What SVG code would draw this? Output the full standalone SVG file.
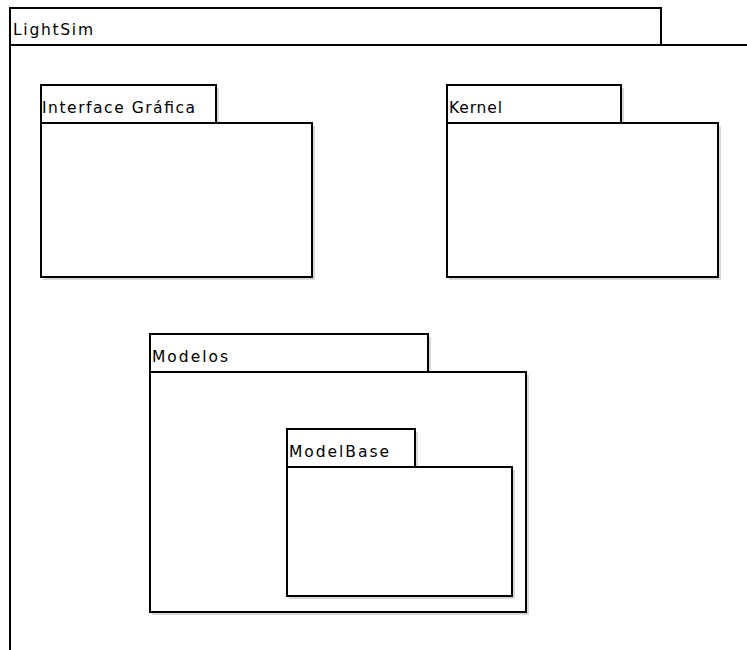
<svg xmlns="http://www.w3.org/2000/svg" width="747" height="650" viewBox="0 0 747 650">
<defs>
<style>
.ln{fill:none;stroke:#000;stroke-width:2}
.bx{fill:#fff;stroke:#000;stroke-width:2}
.sh{fill:#d8d8d8;stroke:none}
.t{font-family:"DejaVu Sans",sans-serif;font-size:15.5px;fill:#000}
</style>
</defs>
<rect width="747" height="650" fill="#fff"/>
<g id="LightSim">
<polyline class="ln" points="10,650 10,8 661,8 661,45"/>
<line class="ln" x1="10" y1="45" x2="747" y2="45"/>
<text class="t" x="13" y="35" textLength="80" lengthAdjust="spacing">LightSim</text>
</g>
<g id="InterfaceGrafica">
<rect class="sh" x="43" y="88" width="176" height="38"/>
<rect class="sh" x="43" y="126" width="272" height="154"/>
<rect class="bx" x="41" y="85" width="175" height="38"/>
<rect class="bx" x="41" y="123" width="271" height="154"/>
<text class="t" x="42" y="113" textLength="153" lengthAdjust="spacing">Interface Gráfica</text>
</g>
<g id="Kernel">
<rect class="sh" x="449" y="88" width="175" height="38"/>
<rect class="sh" x="449" y="126" width="272" height="154"/>
<rect class="bx" x="447" y="85" width="174" height="38"/>
<rect class="bx" x="447" y="123" width="271" height="154"/>
<text class="t" x="449" y="113" textLength="53" lengthAdjust="spacing">Kernel</text>
</g>
<g id="Modelos">
<rect class="sh" x="152" y="337" width="279" height="38"/>
<rect class="sh" x="152" y="375" width="377" height="240"/>
<rect class="bx" x="150" y="334" width="278" height="38"/>
<rect class="bx" x="150" y="372" width="376" height="240"/>
<text class="t" x="152" y="362" textLength="76" lengthAdjust="spacing">Modelos</text>
</g>
<g id="ModelBase">
<rect class="sh" x="289" y="432" width="129" height="38"/>
<rect class="sh" x="289" y="470" width="226" height="129"/>
<rect class="bx" x="287" y="429" width="128" height="38"/>
<rect class="bx" x="287" y="467" width="225" height="129"/>
<text class="t" x="289" y="457" textLength="100" lengthAdjust="spacing">ModelBase</text>
</g>
<g id="connectors"/>
</svg>
